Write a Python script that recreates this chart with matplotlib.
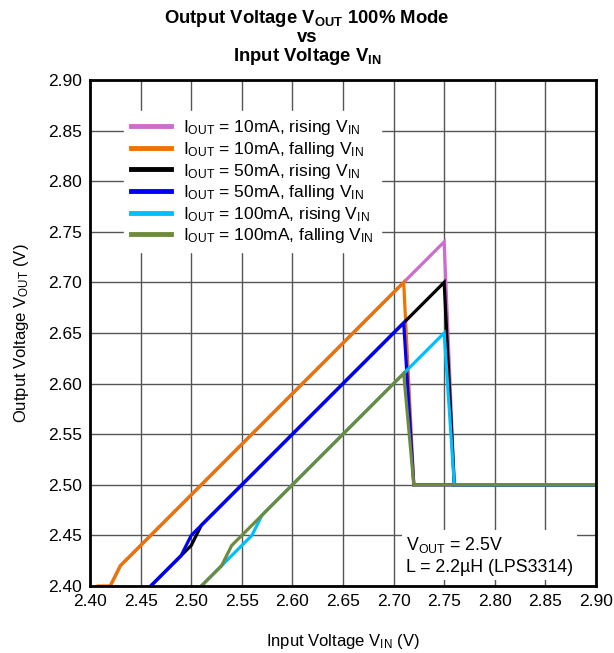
import matplotlib.pyplot as plt

plt.rcParams['font.family'] = ['Liberation Sans', 'DejaVu Sans']
plt.rcParams['mathtext.fontset'] = 'custom'
plt.rcParams['mathtext.rm'] = 'Liberation Sans'
plt.rcParams['mathtext.bf'] = 'Liberation Sans:bold'
plt.rcParams['mathtext.it'] = 'Liberation Sans'

# Data (V_IN, V_OUT)
vin_10r = [2.42, 2.43, 2.71, 2.75, 2.76, 2.90]
vout_10r = [2.40, 2.42, 2.70, 2.74, 2.50, 2.50]

vin_10f = [2.408, 2.42, 2.43, 2.71, 2.72, 2.90]
vout_10f = [2.40, 2.40, 2.42, 2.70, 2.50, 2.50]

vin_50r = [2.46, 2.49, 2.50, 2.51, 2.75, 2.76, 2.90]
vout_50r = [2.40, 2.43, 2.44, 2.46, 2.70, 2.50, 2.50]

vin_50f = [2.46, 2.49, 2.50, 2.51, 2.71, 2.72, 2.90]
vout_50f = [2.40, 2.43, 2.45, 2.46, 2.66, 2.50, 2.50]

vin_100r = [2.51, 2.53, 2.56, 2.57, 2.75, 2.76, 2.90]
vout_100r = [2.40, 2.42, 2.45, 2.47, 2.65, 2.50, 2.50]

vin_100f = [2.51, 2.53, 2.54, 2.55, 2.57, 2.71, 2.72, 2.90]
vout_100f = [2.40, 2.42, 2.44, 2.45, 2.47, 2.61, 2.50, 2.50]

series = [
    (vin_10r, vout_10r, '#cc6ccc', r'I$_{\rm OUT}$ = 10mA, rising V$_{\rm IN}$'),
    (vin_10f, vout_10f, '#ef7300', r'I$_{\rm OUT}$ = 10mA, falling V$_{\rm IN}$'),
    (vin_50r, vout_50r, '#000000', r'I$_{\rm OUT}$ = 50mA, rising V$_{\rm IN}$'),
    (vin_50f, vout_50f, '#0000ff', r'I$_{\rm OUT}$ = 50mA, falling V$_{\rm IN}$'),
    (vin_100r, vout_100r, '#00bfff', r'I$_{\rm OUT}$ = 100mA, rising V$_{\rm IN}$'),
    (vin_100f, vout_100f, '#6e8b3d', r'I$_{\rm OUT}$ = 100mA, falling V$_{\rm IN}$'),
]

xticks = [2.40, 2.45, 2.50, 2.55, 2.60, 2.65, 2.70, 2.75, 2.80, 2.85, 2.90]
yticks = [2.40, 2.45, 2.50, 2.55, 2.60, 2.65, 2.70, 2.75, 2.80, 2.85, 2.90]

fig = plt.figure(figsize=(6.14, 6.53), dpi=100)
ax = fig.add_axes([0.1466, 0.1026, 0.824, 0.775])

for i, (x, y, c, lab) in enumerate(series):
    ax.plot(x, y, color=c, lw=2.3, label=lab, zorder=3 + i, solid_joinstyle='miter')

ax.set_xlim(2.40, 2.90)
ax.set_ylim(2.40, 2.90)
ax.set_xticks(xticks)
ax.set_yticks(yticks)
ax.set_xticklabels(['%.2f' % v for v in xticks])
ax.set_yticklabels(['%.2f' % v for v in yticks])
ax.tick_params(length=0, labelsize=12.5, pad=6)
ax.grid(True, color='#555555', lw=1.0)
ax.set_axisbelow(True)
for s in ax.spines.values():
    s.set_linewidth(2.0)
    s.set_zorder(20)

ax.set_xlabel(r'Input Voltage V$_{\rm IN}$ (V)', fontsize=12, labelpad=16)
ax.set_ylabel(r'Output Voltage V$_{\rm OUT}$ (V)', fontsize=12, labelpad=12)

fig.text(0.5, 0.988,
         r'Output Voltage V$_{\mathbf{OUT}}$ 100% Mode' + '\nvs\n' + r'Input Voltage V$_{\mathbf{IN}}$',
         ha='center', va='top', fontsize=13.3, fontweight='bold', linespacing=1.0)

leg = ax.legend(loc='upper left', bbox_to_anchor=(0.05, 0.955), fontsize=12.5,
                frameon=True, framealpha=1, edgecolor='white', fancybox=False,
                handlelength=2.3, handletextpad=0.7, labelspacing=0.15, borderpad=0.4)
leg.set_zorder(15)
for h in leg.get_lines():
    h.set_linewidth(3.5)

ax.text(0.625, 0.02, 'V$_{\\rm OUT}$ = 2.5V\nL = 2.2\u00b5H (LPS3314)', transform=ax.transAxes,
        fontsize=12.8, ha='left', va='bottom', zorder=15, linespacing=1.3,
        bbox=dict(facecolor='white', edgecolor='none', pad=3))

fig.savefig('out.png', dpi=100)
